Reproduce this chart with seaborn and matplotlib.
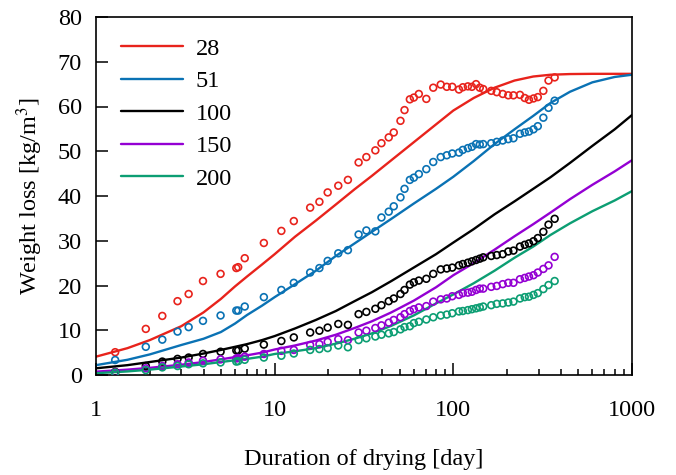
import numpy as np
import pandas as pd
import matplotlib
matplotlib.use("Agg")
import matplotlib.pyplot as plt
import seaborn as sns

# -----------------------------
# DATA
# -----------------------------

series_names = ["28", "51", "100", "150", "200"]
series_colors = ["#e8231c", "#0a72b4", "#000000", "#9400d3", "#0c9e73"]

# measured points (same days for every series)
obs_days = [1.28, 1.9, 2.35, 2.86, 3.3, 3.97, 4.98, 6.1, 6.25, 6.8,
            8.7, 10.9, 12.8, 15.8, 17.8, 19.8, 22.7, 25.7, 29.5, 32.6,
            36.6, 39.6, 43.5, 46.4, 50.6, 53.3, 57.1, 60.1, 64.1, 70.6,
            77.2, 85.0, 91.9, 98.6, 107.5, 113, 120.6, 127, 134, 140.6,
            147, 163, 175, 189, 203, 217, 236, 251, 265, 281,
            297, 319, 341, 369]

obs_28 = [5.1, 10.3, 13.2, 16.5, 18.1, 21.0, 22.6, 23.9, 24.1, 26.1,
          29.5, 32.2, 34.4, 37.4, 38.7, 40.8, 42.3, 43.6, 47.5, 48.7,
          50.2, 51.8, 53.1, 54.2, 56.8, 59.2, 61.6, 62.0, 62.8, 61.7,
          64.2, 64.9, 64.4, 64.4, 63.8, 64.3, 64.5, 64.4, 65.0, 64.2,
          63.9, 63.5, 63.2, 62.8, 62.5, 62.5, 62.6, 61.9, 61.5, 61.8,
          62.1, 63.5, 65.8, 66.5]

obs_51 = [3.35, 6.3, 7.9, 9.7, 10.7, 12.1, 13.3, 14.4, 14.4, 15.3,
          17.4, 19.0, 20.6, 22.9, 23.9, 25.5, 27.2, 27.9, 31.4, 32.3,
          32.1, 35.2, 36.5, 37.7, 39.7, 41.6, 43.6, 44.1, 44.9, 46.0,
          47.6, 48.7, 49.1, 49.5, 49.7, 50.3, 50.7, 51.0, 51.6, 51.5,
          51.6, 51.8, 52.1, 52.4, 52.7, 52.9, 53.9, 54.2, 54.4, 54.9,
          55.6, 57.5, 59.7, 61.3]

obs_100 = [0.7, 2.0, 3.0, 3.6, 3.9, 4.7, 5.2, 5.5, 5.5, 5.9,
           6.8, 7.6, 8.4, 9.5, 9.9, 10.6, 11.4, 11.2, 13.6, 14.1,
           14.8, 15.6, 16.5, 17.1, 18.1, 19.0, 20.2, 20.7, 21.1, 21.5,
           22.6, 23.6, 23.8, 24.0, 24.5, 24.8, 25.1, 25.4, 25.7, 26.0,
           26.3, 26.6, 26.8, 27.0, 27.6, 27.8, 28.7, 29.1, 29.4, 29.9,
           30.6, 32.0, 33.6, 34.9]

obs_150 = [0.6, 1.5, 2.0, 2.4, 2.8, 3.2, 3.5, 3.7, 3.8, 4.1,
           4.7, 5.4, 5.6, 6.7, 6.9, 7.4, 8.0, 7.8, 9.5, 9.9,
           10.5, 11.1, 11.7, 12.3, 12.9, 13.6, 14.3, 14.7, 15.1, 15.4,
           16.4, 16.9, 17.1, 17.6, 17.9, 18.3, 18.4, 18.6, 19.0, 19.3,
           19.3, 19.7, 19.9, 20.3, 20.6, 20.6, 21.4, 21.7, 22.0, 22.3,
           22.9, 23.7, 24.5, 26.4]

obs_200 = [0.5, 1.1, 1.7, 2.0, 2.4, 2.6, 2.8, 3.0, 3.1, 3.4,
           3.9, 4.3, 4.8, 5.6, 5.8, 6.0, 6.6, 6.2, 7.8, 8.2,
           8.6, 9.0, 9.3, 9.6, 10.2, 10.7, 10.9, 11.6, 11.9, 12.4,
           12.9, 13.3, 13.5, 13.8, 14.2, 14.3, 14.5, 14.7, 14.9, 15.1,
           15.3, 15.6, 15.9, 16.0, 16.2, 16.4, 17.1, 17.4, 17.5, 17.9,
           18.3, 19.2, 20.1, 21.0]

# model curves
fit_days = [1, 1.5, 2, 3, 4, 5, 6, 7, 8.5, 10,
            13, 17, 22, 28, 35, 45, 60, 80, 100, 130,
            170, 220, 280, 350, 450, 600, 800, 1000]

fit_28 = [4.1, 6.0, 7.8, 10.9, 14.0, 17.0, 19.8, 22.0, 24.7, 27.0,
          30.9, 34.5, 38.1, 41.5, 44.5, 48.0, 52.0, 56.0, 59.1, 61.9,
          64.2, 65.8, 66.7, 67.1, 67.25, 67.3, 67.3, 67.3]

fit_51 = [2.2, 3.4, 4.6, 6.7, 8.1, 9.6, 11.5, 13.4, 15.5, 17.4,
          20.3, 23.3, 26.6, 29.4, 32.0, 34.9, 38.3, 41.6, 44.3, 47.8,
          51.6, 54.9, 57.9, 60.8, 63.3, 65.4, 66.6, 67.1]

fit_100 = [1.5, 2.2, 2.9, 3.9, 4.8, 5.6, 6.3, 6.9, 7.8, 8.7,
           10.4, 12.3, 14.3, 16.5, 18.5, 21.0, 24.0, 27.0, 29.6, 32.6,
           35.9, 38.8, 41.6, 44.2, 47.4, 51.2, 54.9, 58.1]

fit_150 = [0.75, 1.2, 1.6, 2.3, 2.9, 3.5, 4.0, 4.4, 5.0, 5.7,
           6.6, 7.7, 9.0, 10.5, 12.0, 14.0, 16.6, 19.6, 22.3, 25.0,
           28.0, 31.0, 33.7, 36.3, 39.3, 42.5, 45.5, 48.0]

fit_200 = [0.4, 0.8, 1.2, 1.9, 2.4, 2.9, 3.3, 3.6, 4.1, 4.7,
           5.3, 6.0, 7.0, 8.1, 9.3, 11.0, 13.3, 16.0, 18.0, 20.5,
           23.3, 26.2, 28.7, 31.3, 33.9, 36.6, 39.0, 41.1]

obs_all = [obs_28, obs_51, obs_100, obs_150, obs_200]
fit_all = [fit_28, fit_51, fit_100, fit_150, fit_200]

obs_df = pd.concat([
    pd.DataFrame({"day": obs_days, "loss": v, "group": n})
    for n, v in zip(series_names, obs_all)
])
fit_df = pd.concat([
    pd.DataFrame({"day": fit_days, "loss": v, "group": n})
    for n, v in zip(series_names, fit_all)
])

palette = dict(zip(series_names, series_colors))

# -----------------------------
# STYLE
# -----------------------------

sns.set_style("ticks", {"axes.edgecolor": "black",
                        "xtick.color": "black", "ytick.color": "black",
                        "text.color": "black", "axes.labelcolor": "black"})
plt.rcParams["font.family"] = ["Liberation Serif", "DejaVu Serif"]
plt.rcParams["mathtext.fontset"] = "stix"
plt.rcParams["font.size"] = 17.5

fig = plt.figure(figsize=(6.76, 4.75), dpi=100)
ax = fig.add_axes([96 / 676, 1 - 375 / 475, 536 / 676, 358 / 475])

# -----------------------------
# PLOT
# -----------------------------

sns.lineplot(
    data=fit_df, x="day", y="loss",
    hue="group", hue_order=series_names, palette=palette,
    linewidth=1.7, ax=ax
)

for n in series_names:
    sub = obs_df[obs_df["group"] == n]
    sns.scatterplot(
        x=sub["day"], y=sub["loss"],
        color=palette[n], facecolor="none", edgecolor=palette[n],
        s=24, linewidth=1.2, legend=False, ax=ax, zorder=3
    )

ax.set_xscale("log")
ax.set_xlim(1, 1000)
ax.set_ylim(0, 80)
ax.set_yticks(range(0, 81, 10))
ax.set_xticks([1, 10, 100, 1000])
ax.set_xticklabels(["1", "10", "100", "1000"])

ax.tick_params(axis="both", which="both", direction="in",
               top=False, right=False, width=1.1, labelsize=17.5,
               colors="black")
ax.tick_params(axis="x", which="major", length=8.5, pad=18)
ax.tick_params(axis="x", which="minor", length=4.5)
ax.tick_params(axis="y", which="major", length=8.5, pad=10)
for sp in ax.spines.values():
    sp.set_linewidth(1.2)
    sp.set_color("black")

ax.set_xlabel("Duration of drying [day]", fontsize=17.5, labelpad=20)
ax.set_ylabel("Weight loss [kg/m$^3$]", fontsize=17.5, labelpad=9)

handles, labels = ax.get_legend_handles_labels()
ax.legend(
    handles, labels,
    loc="upper left", bbox_to_anchor=(0.037, 0.955),
    frameon=False, fontsize=17.5,
    handlelength=2.55, handletextpad=0.53,
    labelspacing=0.43, borderaxespad=0, borderpad=0.2
)

plt.savefig("out.png", dpi=100)
